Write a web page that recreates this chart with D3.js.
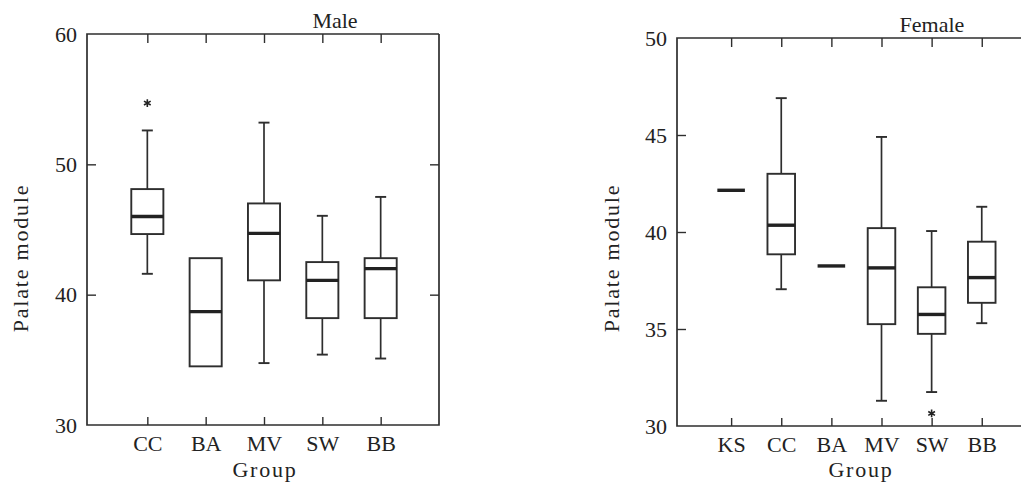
<!DOCTYPE html>
<html>
<head>
<meta charset="utf-8">
<script src="https://cdnjs.cloudflare.com/ajax/libs/d3/7.8.5/d3.min.js"></script>
<style>
body { margin:0; background:#fff; }
svg text { font-family:"Liberation Serif", serif; fill:#222; }
</style>
</head>
<body>
<div id="figure"></div>
<script>
// Male panel
var maleGroups = ["CC","BA","MV","SW","BB"];
var maleLow  = [41.6, null, 34.75, 35.4, 35.1];
var maleQ1   = [44.65, 34.5, 41.1, 38.2, 38.2];
var maleMed  = [46.0, 38.7, 44.7, 41.1, 42.0];
var maleQ3   = [48.1, 42.8, 47.0, 42.5, 42.8];
var maleHigh = [52.6, null, 53.2, 46.05, 47.5];
var maleOut  = [["CC", 54.7]];
var maleTicks = [30, 40, 50, 60];

// Female panel
var femGroups = ["KS","CC","BA","MV","SW","BB"];
var femLow  = [null, 37.05, null, 31.3, 31.75, 35.3];
var femQ1   = [null, 38.85, null, 35.25, 34.75, 36.35];
var femMed  = [42.15, 40.35, 38.25, 38.15, 35.75, 37.65];
var femQ3   = [null, 43.0, null, 40.2, 37.15, 39.5];
var femHigh = [null, 46.9, null, 44.9, 40.05, 41.3];
var femOut  = [["SW", 30.65]];
var femTicks = [30, 35, 40, 45, 50];

var ink = "#2e2e2e";
var fs = 22;

var svg = d3.select("#figure").append("svg")
	.attr("width", 1021).attr("height", 484);

function panel(opt) {
	var g = svg.append("g");
	var x = d3.scaleLinear().domain([0, opt.slots]).range([opt.x0, opt.x1]);
	var y = d3.scaleLinear().domain([30, opt.ymax]).range([opt.yb, opt.yt]);
	var step = x(1) - x(0);
	var bw = step*0.55;

	var rows = opt.groups.map(function(c,i) {
		return {c:c, i:i+1, lo:opt.low[i], q1:opt.q1[i], med:opt.med[i], q3:opt.q3[i], hi:opt.high[i]};
	});

	// frame
	g.append("path")
	.attr("d", "M"+opt.fx1+","+opt.yt+"H"+opt.fx0+"V"+opt.yb+"H"+opt.fx1+(opt.closed ? "V"+opt.yt : ""))
	.attr("fill","none").attr("stroke",ink).attr("stroke-width",1.7);

	// left axis, ticks inside
	var ya = g.append("g").attr("transform","translate("+opt.fx0+",0)")
	.call(d3.axisLeft(y).tickValues(opt.ticks).tickSize(-9).tickPadding(10).tickFormat(d3.format("d")));
	ya.select(".domain").remove();
	ya.selectAll("line").attr("stroke",ink).attr("stroke-width",1.4)
	.filter(function(d){ return d==30 || d==opt.ymax; }).remove();
	ya.selectAll("text").attr("font-size",fs).attr("font-family","Liberation Serif").attr("fill","#222");

	if (opt.closed) {
		var yr = g.append("g").attr("transform","translate("+opt.fx1+",0)")
		.call(d3.axisRight(y).tickValues(opt.ticks.slice(1,-1)).tickSize(-9).tickFormat(""));
		yr.select(".domain").remove();
		yr.selectAll("line").attr("stroke",ink).attr("stroke-width",1.4);
	}

	// bottom axis with category names
	var xa = g.append("g").attr("transform","translate(0,"+opt.yb+")")
	.call(d3.axisBottom(x).tickValues(rows.map(function(d){return d.i;}))
		.tickSize(-8).tickPadding(10).tickFormat(function(d){ return opt.groups[d-1]; }));
	xa.select(".domain").remove();
	xa.selectAll("line").attr("stroke",ink).attr("stroke-width",1.4);
	xa.selectAll("text").attr("font-size",fs).attr("font-family","Liberation Serif").attr("fill","#222");

	// top ticks
	var xt = g.append("g").attr("transform","translate(0,"+opt.yt+")")
	.call(d3.axisTop(x).tickValues(rows.map(function(d){return d.i;})).tickSize(-9).tickFormat(""));
	xt.select(".domain").remove();
	xt.selectAll("line").attr("stroke",ink).attr("stroke-width",1.4);

	// whiskers
	var wr = rows.filter(function(d){ return d.lo!=null; });
	g.selectAll("line.wlo").data(wr).enter().append("line")
	.attr("x1",function(d){return x(d.i);}).attr("x2",function(d){return x(d.i);})
	.attr("y1",function(d){return y(d.q1);}).attr("y2",function(d){return y(d.lo);})
	.attr("stroke",ink).attr("stroke-width",1.7);
	g.selectAll("line.whi").data(wr).enter().append("line")
	.attr("x1",function(d){return x(d.i);}).attr("x2",function(d){return x(d.i);})
	.attr("y1",function(d){return y(d.q3);}).attr("y2",function(d){return y(d.hi);})
	.attr("stroke",ink).attr("stroke-width",1.7);
	["lo","hi"].forEach(function(k) {
		g.selectAll("line.cap"+k).data(wr).enter().append("line")
		.attr("x1",function(d){return x(d.i)-5.5;}).attr("x2",function(d){return x(d.i)+5.5;})
		.attr("y1",function(d){return y(d[k]);}).attr("y2",function(d){return y(d[k]);})
		.attr("stroke",ink).attr("stroke-width",1.9);
	});

	// boxes
	g.selectAll("rect.box").data(rows.filter(function(d){ return d.q1!=null; })).enter().append("rect")
	.attr("x",function(d){return x(d.i)-bw/2;})
	.attr("y",function(d){return y(d.q3);})
	.attr("width",bw)
	.attr("height",function(d){return y(d.q1)-y(d.q3);})
	.attr("fill","none").attr("stroke",ink).attr("stroke-width",1.9);

	// medians
	g.selectAll("line.med").data(rows).enter().append("line")
	.attr("x1",function(d){return x(d.i)-bw/2;}).attr("x2",function(d){return x(d.i)+bw/2;})
	.attr("y1",function(d){return y(d.med);}).attr("y2",function(d){return y(d.med);})
	.attr("stroke","#222").attr("stroke-width",3.4);

	// outliers
	g.selectAll("path.out").data(opt.out).enter().append("path")
	.attr("d", d3.symbol(d3.symbolAsterisk, 42))
	.attr("transform",function(d){ return "translate("+x(opt.groups.indexOf(d[0])+1)+","+y(d[1])+")"; })
	.attr("fill","none").attr("stroke","#222").attr("stroke-width",1.6);

	// labels
	g.append("text").text(opt.title)
	.attr("x",opt.titleX).attr("y",opt.titleY).attr("text-anchor","middle").attr("font-size",fs);
	g.append("text").text("Palate module")
	.attr("transform","translate("+opt.ylabX+",258)rotate(-90)")
	.attr("text-anchor","middle").attr("font-size",fs).attr("letter-spacing",1.8);
	g.append("text").text("Group")
	.attr("x",opt.groupX).attr("y",477).attr("text-anchor","middle")
	.attr("font-size",fs).attr("letter-spacing",1.8);
}

panel({groups:maleGroups, low:maleLow, q1:maleQ1, med:maleMed, q3:maleQ3, high:maleHigh, out:maleOut,
	ticks:maleTicks, ymax:60, slots:6, x0:89, x1:439, fx0:87, fx1:439, yb:425, yt:34, closed:true,
	title:"Male", titleX:335, titleY:28, ylabX:28, groupX:265});

panel({groups:femGroups, low:femLow, q1:femQ1, med:femMed, q3:femQ3, high:femHigh, out:femOut,
	ticks:femTicks, ymax:50, slots:8, x0:681, x1:1082, fx0:677, fx1:1025, yb:426, yt:38, closed:false,
	title:"Female", titleX:932, titleY:32, ylabX:619, groupX:861});
</script>
</body>
</html>
